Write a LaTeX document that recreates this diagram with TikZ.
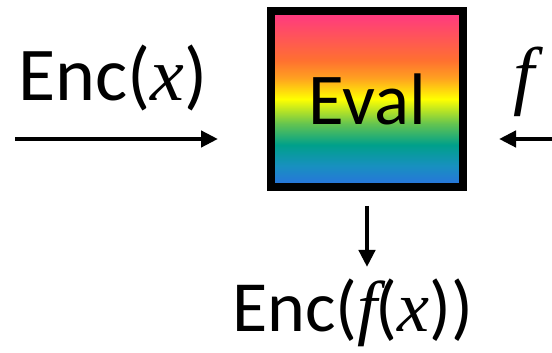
\documentclass[tikz,border=0pt]{standalone}
\usepackage{fontspec}
\setmainfont{Carlito}
\newfontfamily\varfont{Liberation Serif}
\usepackage{tikz}
\usetikzlibrary{arrows.meta}
\definecolor{rbblue}{RGB}{42,112,224}
\definecolor{rbsky}{RGB}{24,144,192}
\definecolor{rbteal}{RGB}{0,160,138}
\definecolor{rbgreen}{RGB}{100,196,80}
\definecolor{rbyellow}{RGB}{255,255,0}
\definecolor{rbamber}{RGB}{255,160,32}
\definecolor{rborange}{RGB}{255,112,48}
\definecolor{rbpink}{RGB}{255,58,128}
\pgfdeclareverticalshading{rainbow}{100bp}{color(0bp)=(rbblue); color(25bp)=(rbblue); color(31bp)=(rbsky); color(37bp)=(rbteal); color(43bp)=(rbgreen); color(50bp)=(rbyellow); color(56bp)=(rbamber); color(61bp)=(rborange); color(74bp)=(rbpink); color(75bp)=(rbpink); color(100bp)=(rbpink)}
\newcommand{\mvar}[1]{{\varfont\itshape #1}}
\tikzset{
	gate/.style={draw, line width=8pt, shading=rainbow, minimum width=192pt,
		minimum height=176pt, inner sep=0pt, font=\fontsize{73}{80}\selectfont},
	lbl/.style={inner sep=0pt, font=\fontsize{76}{84}\selectfont},
	outlbl/.style={lbl, font=\fontsize{72}{80}\selectfont},
	arr/.style={line width=4.5pt, -{Triangle[length=17pt,width=16pt]}},
}
\begin{document}
\begin{tikzpicture}[x=1pt, y=1pt]
	\useasboundingbox (0,0) rectangle (552,353);
	\node[gate] at (367,254) (eval) {Eval};
	\node[lbl, anchor=base west] at (18,252) (encx) {Enc(\mvar{x})};
	\node[lbl, anchor=base] at (524,252) (fn) {\mvar{f}};
	\node[outlbl, anchor=base west] at (232,21) (encfx) {Enc(\mvar{f}\kern-2pt(\mvar{x}))};
	\coordinate (encsrc) at (15,214);
	\coordinate (fsrc) at (552,214);
	\coordinate (outtip) at (367,86);
	\draw[arr, shorten >=49pt] (encsrc) -- (encsrc -| eval.west);
	\draw[arr, shorten >=32pt] (fsrc) -- (fsrc -| eval.east);
	\draw[arr, shorten <=15pt] (eval.south) -- (outtip);
\end{tikzpicture}
\end{document}
